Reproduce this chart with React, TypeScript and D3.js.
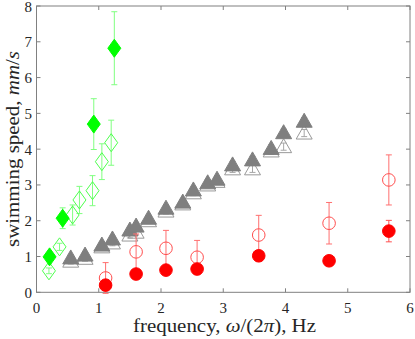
import * as d3 from "d3";

// gray triangles
const triFreq = [0.55, 0.78, 1.05, 1.22, 1.5, 1.6, 1.8, 2.08, 2.35, 2.52, 2.75, 2.9, 3.15, 3.47, 3.77, 3.97, 4.3];
const triFilled = [0.96, 1.04, 1.32, 1.49, 1.74, 1.85, 2.07, 2.35, 2.52, 2.86, 3.06, 3.16, 3.56, 3.7, 4.02, 4.46, 4.78];
const triOpen = [0.87, 0.95, 1.27, 1.38, 1.6, 1.68, 2.0, 2.27, 2.47, 2.78, 3.0, 3.1, 3.45, 3.45, 3.95, 4.07, 4.45];
const triErr = [0.08, 0.08, 0.08, 0.08, 0.08, 0.08, 0.08, 0.08, 0.08, 0.08, 0.08, 0.08, 0.1, 0.1, 0.1, 0.1, 0.1];

// green diamonds
const dFilledFreq = [0.21, 0.42, 0.92, 1.25];
const dFilled = [0.99, 2.07, 4.7, 6.82];
const dFilledErr = [0.08, 0.29, 0.71, 1.02];
const dOpenFreq = [0.2, 0.37, 0.58, 0.69, 0.9, 1.05, 1.2];
const dOpen = [0.6, 1.27, 2.16, 2.58, 2.84, 3.65, 4.18];
const dOpenErr = [0.08, 0.1, 0.28, 0.38, 0.42, 0.5, 0.63];

// red circles
const cFreq = [1.11, 1.6, 2.08, 2.58, 3.57, 4.7, 5.66];
const cOpen = [0.4, 1.13, 1.23, 0.98, 1.6, 1.93, 3.14];
const cOpenErr = [0.43, 0.5, 0.5, 0.47, 0.55, 0.58, 0.7];
const cFilled = [0.2, 0.51, 0.62, 0.65, 1.02, 0.88, 1.71];
const cFilledErr = [0.05, 0.08, 0.08, 0.08, 0.15, 0.12, 0.3];

const xTicks = [0, 1, 2, 3, 4, 5, 6];
const yTicks = [0, 1, 2, 3, 4, 5, 6, 7, 8];

const W = 415;
const H = 339;
const left = 36.5, right = 410, top = 6, bottom = 292.3;

export default function App() {
  const x = d3.scaleLinear().domain([0, 6]).range([left, right]);
  const y = d3.scaleLinear().domain([0, 8]).range([bottom, top]);
  const font = "'Liberation Serif', 'DejaVu Serif', serif";
  const axisColor = "#808080";

  const errBars = (xs: number[], ys: number[], es: number[], color: string) =>
    xs.map((f, i) => {
      const cx = x(f), y1 = y(ys[i] - es[i]), y2 = y(ys[i] + es[i]);
      return (
        <g key={"e" + i} stroke={color} strokeWidth={1}>
          <line x1={cx} x2={cx} y1={y1} y2={y2} />
          <line x1={cx - 3} x2={cx + 3} y1={y1} y2={y1} />
          <line x1={cx - 3} x2={cx + 3} y1={y2} y2={y2} />
        </g>
      );
    });

  const diamond = (cx: number, cy: number) =>
    `M${cx},${cy - 9}L${cx + 6.5},${cy}L${cx},${cy + 9}L${cx - 6.5},${cy}Z`;
  const triangle = (cx: number, cy: number) =>
    `M${cx},${cy - 8}L${cx + 8},${cy + 6}L${cx - 8},${cy + 6}Z`;

  return (
    <svg width={W} height={H} style={{ position: "absolute", left: 0, top: 0, background: "#fff" }}>
      {/* ticks on all four sides */}
      {xTicks.map((t) => (
        <g key={"xt" + t} stroke={axisColor}>
          <line x1={x(t)} x2={x(t)} y1={bottom} y2={bottom - 4} />
          <line x1={x(t)} x2={x(t)} y1={top} y2={top + 4} />
        </g>
      ))}
      {yTicks.map((t) => (
        <g key={"yt" + t} stroke={axisColor}>
          <line x1={left} x2={left + 4} y1={y(t)} y2={y(t)} />
          <line x1={right} x2={right - 4} y1={y(t)} y2={y(t)} />
        </g>
      ))}
      <rect x={left} y={top} width={right - left} height={bottom - top} fill="none" stroke={axisColor} />

      {/* gray triangles */}
      {errBars(triFreq, triOpen, triErr, "#a6a6a6")}
      {triFreq.map((f, i) => (
        <path key={"to" + i} d={triangle(x(f), y(triOpen[i]))} fill="none" stroke="#999999" />
      ))}
      {errBars(triFreq, triFilled, triErr, "#999999")}
      {triFreq.map((f, i) => (
        <path key={"tf" + i} d={triangle(x(f), y(triFilled[i]))} fill="#7f7f7f" stroke="#7f7f7f" />
      ))}

      {/* red circles */}
      {errBars(cFreq, cOpen, cOpenErr, "#ff6f6f")}
      {cFreq.map((f, i) => (
        <circle key={"co" + i} cx={x(f)} cy={y(cOpen[i])} r={6.3} fill="none" stroke="#ff4d4d" />
      ))}
      {errBars(cFreq, cFilled, cFilledErr, "#ff5050")}
      {cFreq.map((f, i) => (
        <circle key={"cf" + i} cx={x(f)} cy={y(cFilled[i])} r={6.3} fill="#ff0000" stroke="#ff0000" />
      ))}

      {/* green diamonds */}
      {errBars(dOpenFreq, dOpen, dOpenErr, "#80ff80")}
      {dOpenFreq.map((f, i) => (
        <path key={"do" + i} d={diamond(x(f), y(dOpen[i]))} fill="none" stroke="#4dff4d" />
      ))}
      {errBars(dFilledFreq, dFilled, dFilledErr, "#80ff80")}
      {dFilledFreq.map((f, i) => (
        <path key={"df" + i} d={diamond(x(f), y(dFilled[i]))} fill="#00ff00" stroke="#00ff00" />
      ))}

      {/* tick labels */}
      {xTicks.map((t) => (
        <text key={"xl" + t} x={x(t)} y={313} textAnchor="middle" fontFamily={font} fontSize={15} fill="#262626">
          {t}
        </text>
      ))}
      {yTicks.map((t) => (
        <text key={"yl" + t} x={32} y={y(t) + 5.5} textAnchor="end" fontFamily={font} fontSize={15} fill="#262626">
          {t}
        </text>
      ))}

      {/* axis labels */}
      <text
        x={224.5}
        y={332}
        textAnchor="middle"
        fontFamily={font}
        fontSize={18}
        fill="#262626"
        textLength={183}
        lengthAdjust="spacingAndGlyphs"
      >
        frequency, <tspan fontStyle="italic">ω</tspan>/(2<tspan fontStyle="italic">π</tspan>), Hz
      </text>
      <text
        transform={`translate(19,${149}) rotate(-90)`}
        textAnchor="middle"
        fontFamily={font}
        fontSize={18.5}
        fill="#262626"
        textLength={196}
        lengthAdjust="spacingAndGlyphs"
      >
        swimming speed, <tspan fontStyle="italic">mm</tspan>/<tspan fontStyle="italic">s</tspan>
      </text>
    </svg>
  );
}
